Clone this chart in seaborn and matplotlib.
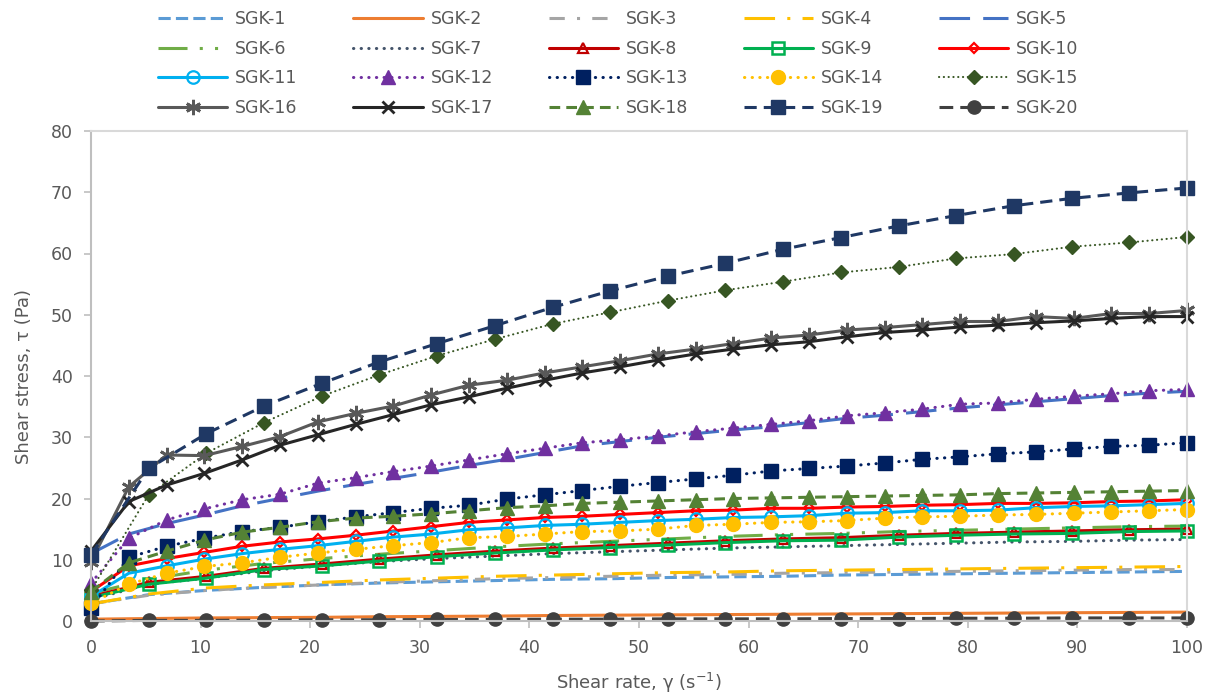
import matplotlib
matplotlib.use("Agg")
import matplotlib.pyplot as plt
import seaborn as sns

# Shear-rate grids used by the measurements (s^-1)
x30 = [0.0, 3.45, 6.9, 10.34, 13.79, 17.24, 20.69, 24.14, 27.59, 31.03, 34.48, 37.93,
       41.38, 44.83, 48.28, 51.72, 55.17, 58.62, 62.07, 65.52, 68.97, 72.41, 75.86,
       79.31, 82.76, 86.21, 89.66, 93.1, 96.55, 100.0]
x20 = [0.0, 5.26, 10.53, 15.79, 21.05, 26.32, 31.58, 36.84, 42.11, 47.37, 52.63, 57.89,
       63.16, 68.42, 73.68, 78.95, 84.21, 89.47, 94.74, 100.0]

# Shear stress (Pa) for each sample
sgk1 = [2.8, 4.3, 5.0, 5.5, 5.9, 6.2, 6.4, 6.6, 6.8, 6.9, 7.1, 7.2, 7.3, 7.5, 7.6, 7.7, 7.8, 7.9, 8.0, 8.1]
sgk2 = [0.3, 0.4, 0.5, 0.55, 0.6, 0.7, 0.75, 0.8, 0.9, 0.95, 1.0, 1.05, 1.1, 1.15, 1.2, 1.25, 1.3, 1.35, 1.4, 1.45]
sgk3 = [2.8, 4.2, 5.0, 5.5, 5.9, 6.3, 6.6, 6.9, 7.1, 7.3, 7.5, 7.6, 7.8, 7.9, 8.0, 8.1, 8.2, 8.3, 8.4, 8.4]
sgk4 = [2.8, 4.4, 5.4, 5.9, 6.3, 6.7, 7.0, 7.3, 7.5, 7.7, 7.9, 8.0, 8.2, 8.3, 8.4, 8.5, 8.6, 8.7, 8.8, 8.9]
sgk5 = [11.0, 14.2, 15.9, 17.3, 18.8, 20.0, 21.2, 22.3, 23.3, 24.3, 25.4, 26.4, 27.5, 28.6, 29.3,
        30.0, 30.6, 31.2, 31.7, 32.4, 33.1, 33.6, 34.2, 34.8, 35.3, 35.8, 36.3, 36.8, 37.2, 37.5]
sgk6 = [4.5, 6.8, 8.3, 9.4, 10.2, 10.9, 11.5, 12.1, 12.6, 13.0, 13.4, 13.8, 14.1, 14.3, 14.6, 14.8, 15.0, 15.2, 15.4, 15.5]
sgk7 = [3.5, 6.0, 7.0, 8.2, 9.0, 9.7, 10.2, 10.6, 11.0, 11.3, 11.6, 11.9, 12.1, 12.3, 12.5, 12.7, 12.9, 13.0, 13.2, 13.3]
sgk8 = [4.0, 6.3, 7.3, 8.6, 9.3, 10.1, 10.8, 11.4, 11.9, 12.3, 12.7, 13.1, 13.4, 13.6, 14.0, 14.3, 14.5, 14.7, 14.9, 15.0]
sgk9 = [3.8, 6.0, 7.0, 8.4, 9.0, 9.8, 10.5, 11.1, 11.6, 12.0, 12.4, 12.8, 13.1, 13.2, 13.7, 14.0, 14.2, 14.3, 14.6, 14.7]
sgk10 = [4.8, 9.0, 10.2, 11.2, 12.2, 12.9, 13.4, 14.0, 14.7, 15.4, 16.1, 16.5, 16.9, 17.1, 17.4,
         17.7, 18.0, 18.1, 18.4, 18.4, 18.6, 18.7, 18.9, 19.0, 19.2, 19.2, 19.3, 19.5, 19.6, 19.8]
sgk11 = [4.0, 7.8, 9.0, 10.1, 11.0, 11.7, 12.3, 13.0, 13.7, 14.2, 14.9, 15.2, 15.6, 15.8, 16.1,
         16.4, 16.6, 16.9, 17.0, 17.2, 17.6, 17.7, 18.0, 18.0, 18.1, 18.5, 18.7, 18.8, 19.0, 19.2]
sgk12 = [6.2, 13.5, 16.5, 18.3, 19.8, 20.7, 22.5, 23.4, 24.4, 25.3, 26.3, 27.3, 28.2, 29.1, 29.6,
         30.2, 30.9, 31.5, 32.1, 32.7, 33.5, 34.0, 34.6, 35.4, 35.6, 36.2, 36.7, 37.1, 37.6, 37.8]
sgk13 = [2.1, 10.4, 12.2, 13.5, 14.6, 15.3, 16.2, 17.0, 17.7, 18.4, 18.9, 19.9, 20.6, 21.3, 22.0,
         22.6, 23.2, 23.8, 24.5, 24.9, 25.3, 25.8, 26.4, 26.8, 27.3, 27.6, 28.1, 28.5, 28.7, 29.1]
sgk14 = [2.9, 6.0, 7.8, 8.9, 9.5, 10.4, 11.1, 11.7, 12.3, 12.8, 13.6, 13.8, 14.2, 14.6, 14.7,
         15.0, 15.6, 15.8, 16.1, 16.2, 16.4, 16.8, 17.0, 17.1, 17.3, 17.4, 17.6, 17.8, 18.0, 18.2]
sgk15 = [5.0, 20.6, 27.4, 32.4, 36.7, 40.2, 43.3, 46.0, 48.5, 50.4, 52.3, 54.0, 55.4, 56.9, 57.8,
         59.2, 59.9, 61.1, 61.8, 62.7]
sgk16 = [9.7, 21.9, 27.1, 27.0, 28.5, 30.1, 32.5, 33.9, 35.1, 36.9, 38.5, 39.3, 40.5, 41.5, 42.5,
         43.6, 44.4, 45.3, 46.2, 46.7, 47.5, 47.9, 48.4, 48.9, 48.9, 49.7, 49.4, 50.2, 50.2, 50.7]
sgk17 = [11.4, 19.5, 22.2, 24.1, 26.3, 28.7, 30.4, 32.1, 33.7, 35.3, 36.6, 38.0, 39.3, 40.5, 41.5,
         42.6, 43.6, 44.4, 45.1, 45.6, 46.4, 47.1, 47.5, 48.0, 48.3, 48.7, 49.0, 49.4, 49.7, 49.7]
sgk18 = [4.8, 9.5, 11.4, 13.2, 14.5, 15.3, 16.2, 16.8, 17.1, 17.5, 18.0, 18.5, 18.8, 19.2, 19.4,
         19.6, 19.8, 20.0, 20.1, 20.2, 20.3, 20.4, 20.5, 20.6, 20.8, 20.9, 21.0, 21.1, 21.2, 21.3]
sgk19 = [10.8, 24.9, 30.6, 35.1, 38.8, 42.3, 45.3, 48.2, 51.2, 53.9, 56.3, 58.4, 60.7, 62.6, 64.5,
         66.2, 67.8, 69.0, 69.9, 70.7]
sgk20 = [0.0, 0.1, 0.1, 0.15, 0.2, 0.2, 0.25, 0.25, 0.3, 0.3, 0.35, 0.35, 0.35, 0.4, 0.4, 0.45,
         0.45, 0.5, 0.5, 0.5]

labels = [f"SGK-{i}" for i in range(1, 21)]

sns.set_theme(style="white")
plt.rcParams["font.family"] = ["DejaVu Sans"]
plt.rcParams["mathtext.default"] = "regular"

TXT = "#595959"
DOT = dict(dash_capstyle="round")

# (x, y, color, linestyle, marker options)
series = [
    (x20, sgk1, "#5B9BD5", (0, (4, 1.7)), {}),
    (x20, sgk2, "#ED7D31", "-", {}),
    (x20, sgk3, "#A5A5A5", (0, (5, 4, 1, 4)), {}),
    (x20, sgk4, "#FFC000", (0, (10, 4, 1, 4)), {}),
    (x30, sgk5, "#4472C4", (0, (10, 4.3)), {}),
    (x20, sgk6, "#70AD47", (0, (9.5, 4, 1, 4, 1, 4)), {}),
    (x20, sgk7, "#44546A", (0, (0.1, 2.4)), DOT),
    (x20, sgk8, "#C00000", "-", dict(marker="^", ms=7, mfc="none", mew=1.6)),
    (x20, sgk9, "#00B050", "-", dict(marker="s", ms=9, mfc="none", mew=1.8)),
    (x30, sgk10, "#FF0000", "-", dict(marker="D", ms=5.5, mfc="none", mew=1.6)),
    (x30, sgk11, "#00B0F0", "-", dict(marker="o", ms=9, mfc="none", mew=1.6)),
    (x30, sgk12, "#7030A0", (0, (0.1, 2.4)), dict(marker="^", ms=10, **DOT)),
    (x30, sgk13, "#002060", (0, (0.1, 2.4)), dict(marker="s", ms=10, **DOT)),
    (x30, sgk14, "#FFC000", (0, (0.1, 2.4)), dict(marker="o", ms=10, **DOT)),
    (x20, sgk15, "#375623", (0, (0.1, 2.2)), dict(marker="D", ms=7, lw=1.5, **DOT)),
    (x30, sgk16, "#595959", "-", dict(marker=(6, 2, 0), ms=11, mew=2)),
    (x30, sgk17, "#262626", "-", dict(marker="x", ms=9, mew=2)),
    (x30, sgk18, "#548235", (0, (3.5, 2)), dict(marker="^", ms=10)),
    (x20, sgk19, "#1F3864", (0, (4, 2.3)), dict(marker="s", ms=10)),
    (x20, sgk20, "#404040", (0, (4.5, 2.3)), dict(marker="o", ms=9.5)),
]

fig = plt.figure(figsize=(12.11, 6.95), dpi=100)
ax = fig.add_axes([91 / 1211, 1 - 621 / 695, (1187 - 91) / 1211, (621 - 131) / 695])

for (xs, ys, col, ls, mk), lab in zip(series, labels):
    opts = dict(mk)
    lw = opts.pop("lw", 2.2)
    opts.setdefault("mec", col)
    opts.setdefault("mew", 1.0)
    sns.lineplot(x=xs, y=ys, ax=ax, color=col, linestyle=ls, lw=lw, label=lab,
                 clip_on=False, **opts)

if ax.get_legend() is not None:
    ax.get_legend().remove()

ax.set_xlim(0, 100)
ax.set_ylim(0, 80)
ax.set_xticks(range(0, 101, 10))
ax.set_yticks(range(0, 81, 10))
ax.tick_params(axis="both", direction="out", length=5, width=1.2, color="#BFBFBF",
               labelcolor=TXT, labelsize=12.5, pad=8, left=True, bottom=True)

for side in ("left", "bottom"):
    ax.spines[side].set_color("#BFBFBF")
    ax.spines[side].set_linewidth(1.5)
for side in ("top", "right"):
    ax.spines[side].set_color("#D9D9D9")
    ax.spines[side].set_linewidth(1.5)

ax.set_xlabel("Shear rate, γ (s$^{-1}$)", fontsize=13, color=TXT, labelpad=10)
ax.set_ylabel("Shear stress, τ (Pa)", fontsize=13, color=TXT, labelpad=13)

# Legend: 5 columns filled row by row
handles, labs = ax.get_legend_handles_labels()
ncol, nrow = 5, 4
order = [r * ncol + c for c in range(ncol) for r in range(nrow)]
fig.legend([handles[i] for i in order], [labs[i] for i in order], ncol=ncol,
           loc="upper left", bbox_to_anchor=(158 / 1211, 0.985), frameon=False,
           fontsize=12.5, labelcolor=TXT, handlelength=4.0, handletextpad=0.45,
           columnspacing=3.2, labelspacing=0.66, borderpad=0, borderaxespad=0)

fig.savefig("out.png", dpi=100, facecolor="white")
